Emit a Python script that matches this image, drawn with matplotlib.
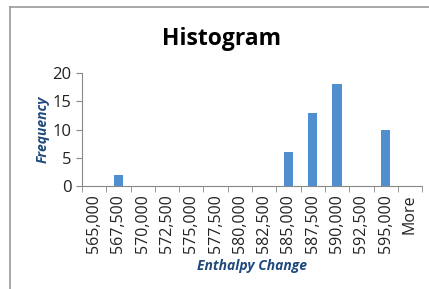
import matplotlib
matplotlib.use("Agg")
import matplotlib.pyplot as plt
from matplotlib.lines import Line2D

# bin labels and counts
bins = ["565,000", "567,500", "570,000", "572,500", "575,000", "577,500", "580,000",
        "582,500", "585,000", "587,500", "590,000", "592,500", "595,000", "More"]
freq = [0, 2, 0, 0, 0, 0, 0, 0, 6, 13, 18, 0, 10, 0]

plt.rcParams["font.family"] = ["Open Sans", "DejaVu Sans"]

fig = plt.figure(figsize=(4.29, 2.89), dpi=100)
ax = fig.add_axes([0.191, 0.356, 0.793, 0.391])

x = list(range(len(bins)))
ax.bar(x, freq, width=0.38, color="#4F8FD0", zorder=3)

ax.set_xlim(-0.5, len(bins) - 0.5)
ax.set_ylim(0, 20)
ax.set_yticks([0, 5, 10, 15, 20])
ax.set_xticks(x)
ax.set_xticklabels(bins, rotation=90, fontsize=11.5, color="#222222")
ax.set_xticks([i - 0.5 for i in range(len(bins) + 1)], minor=True)
ax.tick_params(axis="x", which="major", length=0, pad=6)
ax.tick_params(axis="x", which="minor", length=4, color="#888888", direction="out")
ax.tick_params(axis="y", length=4, color="#888888", labelsize=12, labelcolor="#222222")

for s in ["top", "right"]:
    ax.spines[s].set_visible(False)
for s in ["left", "bottom"]:
    ax.spines[s].set_color("#888888")

ax.set_ylabel("Frequency", fontsize=10, fontweight="bold", style="italic",
              color="#1F497D", labelpad=2)
ax.set_xlabel("Enthalpy Change", fontsize=10, fontweight="bold", style="italic",
              color="#1F497D", labelpad=4)
fig.text(0.517, 0.866, "Histogram", ha="center", va="center", fontsize=16.5,
         fontweight="bold", color="black")

# chart frame (left and top edges visible)
fig.add_artist(Line2D([0.024, 0.024], [0.0, 0.976], color="#999999", lw=1.2))
fig.add_artist(Line2D([0.024, 1.0], [0.976, 0.976], color="#999999", lw=1.2))

fig.savefig("out.png", dpi=100)
